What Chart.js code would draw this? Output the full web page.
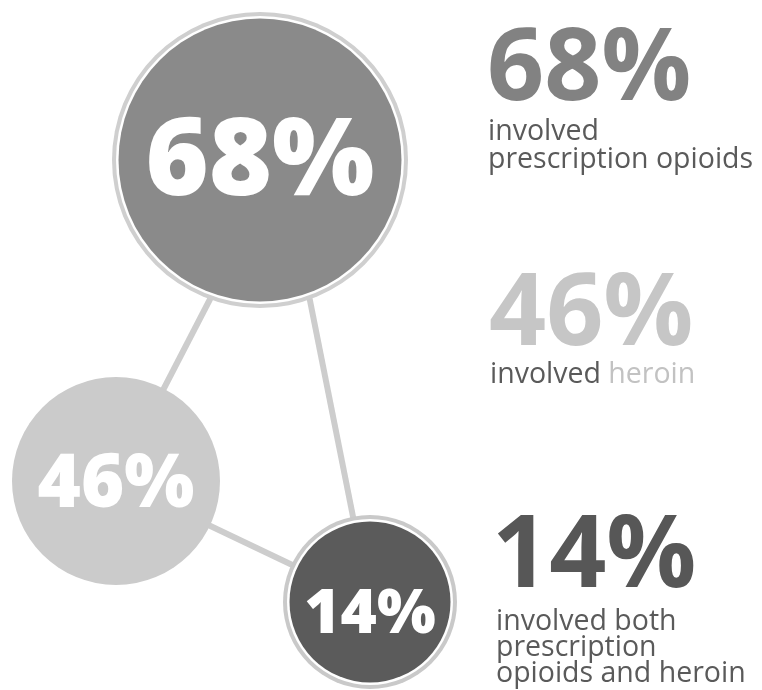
<!DOCTYPE html>
<html>
<head>
<meta charset="utf-8">
<script src="https://cdn.jsdelivr.net/npm/chart.js@4/dist/chart.umd.min.js"></script>
<style>
  html, body { margin: 0; padding: 0; background: #fff; }
  canvas { display: block; }
</style>
</head>
<body>
<canvas id="chart" width="762" height="690"></canvas>
<script>
// values shown in the graphic
const categories = ["prescription opioids", "heroin", "prescription opioids and heroin"];
const shares = [68, 46, 14];
const captions = [
  ["involved", "prescription opioids"],
  ["involved heroin"],
  ["involved both", "prescription", "opioids and heroin"],
];
const highlightWords = [null, "heroin", null];
// which circles are joined by a stick
const links = [[0, 1], [0, 2], [1, 2]];

// layout (canvas units = px)
const nodes = [
  { x: 260, y: 160, r: 148, fill: "#8a8a8a", ring: "#cfcfcf", font: 108, base: 35, attach: 22 },
  { x: 116, y: 481, r: 104, fill: "#cbcbcb", ring: null, font: 74, base: 26, attach: 0 },
  { x: 370, y: 602, r: 87, fill: "#5b5b5b", ring: "#c9c9c9", font: 62, base: 31, attach: 0 },
];
const captionBlocks = [
  { x: 487, y: 100, numColor: "#828282", lineY: [140, 168], indent: 1 },
  { x: 489, y: 345, numColor: "#c6c6c6", lineY: [383], indent: 1 },
  { x: 492, y: 587, numColor: "#575757", lineY: [630, 656, 682], indent: 4 },
];
const textColor = "#5a5a5a";
const highlightColor = "#c2c2c2";
const stickColor = "#cdcdcd";

const chartCanvas = document.querySelector("#chart");

const lineSets = links.map(([a, b]) => ({
  type: "line",
  data: [
    { x: nodes[a].x + nodes[a].attach, y: nodes[a].y },
    { x: nodes[b].x, y: nodes[b].y },
  ],
  borderColor: stickColor,
  borderWidth: 6,
  pointRadius: 0,
  order: 10,
  clip: false,
}));

function bubbleLayer(pick, order) {
  const pts = [];
  const colors = [];
  nodes.forEach((n) => {
    const layer = pick(n);
    if (!layer) return;
    pts.push({ x: n.x, y: n.y, r: layer.r });
    colors.push(layer.c);
  });
  return {
    type: "bubble",
    data: pts,
    backgroundColor: colors,
    borderWidth: 0,
    hoverRadius: 0,
    order: order,
    clip: false,
  };
}

const ringSet = bubbleLayer((n) => (n.ring ? { r: n.r, c: n.ring } : null), 5);
const gapSet = bubbleLayer((n) => (n.ring ? { r: n.r - 4, c: "#ffffff" } : null), 4);
const fillSet = bubbleLayer((n) => ({ r: n.ring ? n.r - 6.5 : n.r, c: n.fill }), 3);

const textPlugin = {
  id: "percentText",
  afterDatasetsDraw(chart) {
    const ctx = chart.ctx;
    const xs = chart.scales.x;
    const ys = chart.scales.y;
    ctx.save();
    // numbers inside the circles
    nodes.forEach((n, i) => {
      ctx.font = "800 " + n.font + "px 'Open Sans', sans-serif";
      ctx.fillStyle = "#ffffff";
      ctx.textAlign = "center";
      ctx.textBaseline = "alphabetic";
      ctx.fillText(shares[i] + "%", xs.getPixelForValue(n.x), ys.getPixelForValue(n.y) + n.base);
    });
    // captions on the right
    captionBlocks.forEach((b, i) => {
      ctx.textAlign = "left";
      ctx.font = "700 100px 'Open Sans', sans-serif";
      ctx.fillStyle = b.numColor;
      ctx.fillText(shares[i] + "%", b.x, b.y);
      ctx.font = "400 28.5px 'Open Sans', sans-serif";
      captions[i].forEach((line, j) => {
        const hw = highlightWords[i];
        let x = b.x + b.indent;
        if (hw && line.endsWith(hw)) {
          const head = line.slice(0, line.length - hw.length);
          ctx.fillStyle = textColor;
          ctx.fillText(head, x, b.lineY[j]);
          x += ctx.measureText(head).width;
          ctx.fillStyle = highlightColor;
          ctx.fillText(hw, x, b.lineY[j]);
        } else {
          ctx.fillStyle = textColor;
          ctx.fillText(line, x, b.lineY[j]);
        }
      });
    });
    ctx.restore();
  },
};

const myChart = new Chart(chartCanvas, {
  type: "bubble",
  data: {
    labels: categories,
    datasets: [fillSet, gapSet, ringSet, ...lineSets],
  },
  options: {
    responsive: false,
    animation: false,
    events: [],
    layout: { padding: 0, autoPadding: false },
    plugins: { legend: { display: false }, tooltip: { enabled: false } },
    scales: {
      x: { type: "linear", min: 0, max: 762, display: false },
      y: { type: "linear", min: 0, max: 690, reverse: true, display: false },
    },
  },
  plugins: [textPlugin],
});
</script>
</body>
</html>
